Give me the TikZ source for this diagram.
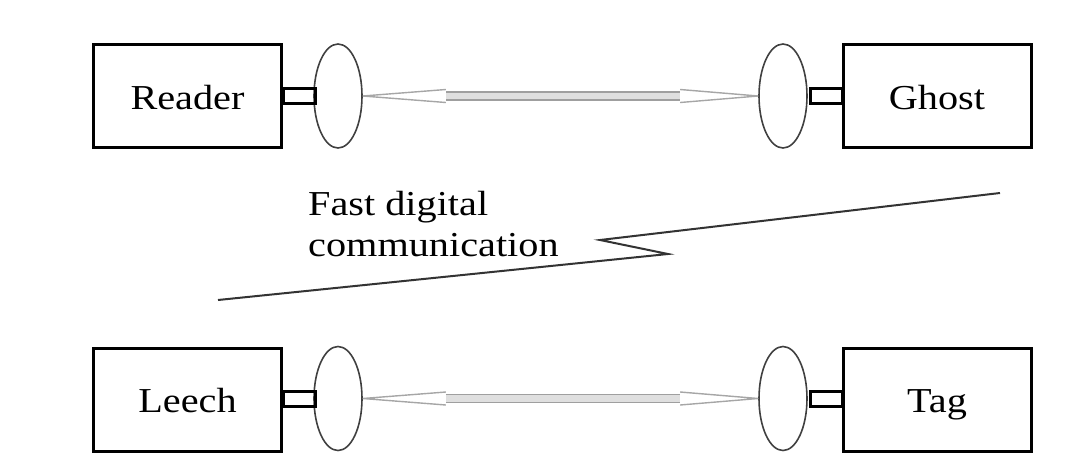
\documentclass[tikz,border=0pt]{standalone}
\usepackage{fontspec}
\setmainfont{Liberation Serif}[FakeStretch=1.15]
\usetikzlibrary{shapes.geometric,calc}
\tikzset{
  unitbox/.style={draw, line width=3pt, rectangle, minimum width=188pt, minimum height=103pt,
    inner sep=0pt, font=\fontsize{35}{42}\selectfont, text height=26pt, text depth=0pt},
  stubbox/.style={draw, line width=3pt, rectangle, minimum width=32pt, minimum height=15pt, inner sep=0pt},
  antenna/.style={draw=black!75, line width=1.6pt, ellipse, minimum width=48pt, minimum height=104pt, inner sep=0pt},
  channel/.style={draw=gray!75, line width=1.6pt, double=gray!25, double distance=6.5pt},
  taper/.style={draw=gray!70, line width=1.4pt, line join=miter},
  bolt/.style={draw=black!80, line width=2pt, line join=miter},
  caption/.style={align=left, anchor=base west, inner sep=0pt, font=\fontsize{35}{41}\selectfont}
}
\begin{document}
\begin{tikzpicture}[x=1pt, y=-1pt]
  \useasboundingbox (0,0) rectangle (1072,467);

  % upper pair: reader and ghost
  \node[unitbox] (reader) at (187.5,96) {Reader};
  \node[antenna] (readerAnt) at (338,96) {};
  \node[stubbox] (readerStub) at (299,96) {};
  \node[unitbox] (ghost) at (937,96) {Ghost};
  \node[antenna] (ghostAnt) at (783,96) {};
  \node[stubbox] (ghostStub) at (826,96) {};

  % lower pair: leech and tag
  \node[unitbox] (leech) at (187.5,399.5) {Leech};
  \node[antenna] (leechAnt) at (338,398.5) {};
  \node[stubbox] (leechStub) at (299,398.5) {};
  \node[unitbox] (tag) at (937,399.5) {Tag};
  \node[antenna] (tagAnt) at (783,398.5) {};
  \node[stubbox] (tagStub) at (826,398.5) {};

  % radio links between antennas
  \foreach \a/\b in {readerAnt/ghostAnt, leechAnt/tagAnt}{
    \draw[channel] ($(\a.east)+(78,0)$) -- ($(\b.west)+(-74,0)$);
    \draw[taper, fill=white] ($(\a.east)+(83,-6.5)$) -- (\a.east) -- ($(\a.east)+(83,6.5)$);
    \draw[taper, fill=white] ($(\b.west)+(-78,-6.5)$) -- (\b.west) -- ($(\b.west)+(-78,6.5)$);
  }

  % fast digital link between ghost and leech
  \coordinate (boltStart) at (218,300);
  \coordinate (boltTip) at (668,254);
  \coordinate (boltBack) at (600,240);
  \coordinate (boltEnd) at (1000,193);
  \draw[bolt] (boltStart) -- (boltTip) -- (boltBack) -- (boltEnd);
  \node[caption] (linkLabel) at (308,256) {Fast digital\\communication};
\end{tikzpicture}
\end{document}
